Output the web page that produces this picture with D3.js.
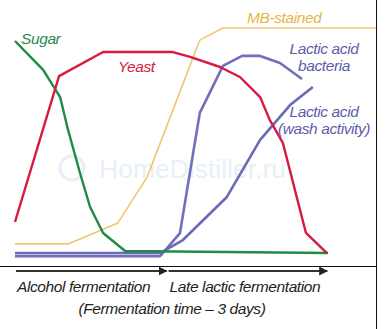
<!DOCTYPE html>
<html>
<head>
<meta charset="utf-8">
<script src="https://cdn.jsdelivr.net/npm/d3@7/dist/d3.min.js"></script>
<style>
  html, body { margin: 0; padding: 0; background: #fff; }
  svg { display: block; }
  text { font-family: "Liberation Sans", Arial, sans-serif; font-style: italic; }
</style>
</head>
<body>
<svg id="chart" width="386" height="329"></svg>
<script>
// Relative level of each population over the course of fermentation (0–100)
const sugarTime   = [0, 7.8, 12.5, 14.7, 18.0, 20.8, 24.4, 30.5, 86.7];
const sugarLevel  = [94.3, 81.6, 69.7, 55.3, 36.4, 21.5, 10.1, 2.2, 1.3];

const yeastTime   = [0, 12.2, 24.4, 43.5, 48.5, 56.8, 62.3, 67.9, 70.6, 74.2, 80.6, 86.4];
const yeastLevel  = [14.9, 78.9, 89.5, 89.5, 87.3, 82.9, 78.5, 69.7, 59.6, 49.6, 10.1, 1.3];

const mbTime      = [0, 14.7, 28.5, 36.6, 51.2, 57.6, 100];
const mbLevel     = [5.3, 5.3, 14.5, 34.6, 94.7, 100, 100];

const labTime     = [0, 40.2, 45.7, 49.9, 51.2, 57.6, 62.9, 67.9, 73.4, 79.5];
const labLevel    = [0.4, 0.4, 10.5, 50.9, 63.2, 83.8, 88.2, 88.2, 85.1, 78.1];

const acidTime    = [0, 40.2, 46.5, 58.7, 67.9, 76.2, 82.5];
const acidLevel   = [1.3, 1.3, 7.0, 25.9, 50.9, 66.2, 74.1];

const phaseNames  = ["Alcohol fermentation", "Late lactic fermentation"];
const phaseBounds = [0, 42, 86.5];
const axisCaption = "(Fermentation time \u2013 3 days)";

const svg = d3.select("#chart");

const x = d3.scaleLinear().domain([0, 100]).range([15, 376]);
const y = d3.scaleLinear().domain([0, 100]).range([256, 28]);

// faint site watermark behind the curves
const wm = svg.append("g");
wm.append("circle").attr("cx", 72).attr("cy", 168).attr("r", 12)
  .attr("fill", "none").attr("stroke", "#e8eff7").attr("stroke-width", 3);
wm.append("text").attr("x", 99).attr("y", 178)
  .style("font-style", "normal").style("font-size", "26.5px")
  .attr("fill", "#e8eff7").text("HomeDistiller.ru");

// frame: right edge and the rule under the plot
svg.append("line").attr("x1", 376.5).attr("x2", 376.5).attr("y1", 0).attr("y2", 329)
  .attr("stroke", "#111").attr("stroke-width", 1);
svg.append("line").attr("x1", 0).attr("x2", 377).attr("y1", 266.5).attr("y2", 266.5)
  .attr("stroke", "#111").attr("stroke-width", 1);

const line = d3.line().x(d => x(d[0])).y(d => y(d[1]));
const zip = (a, b) => a.map((v, i) => [v, b[i]]);

const series = [
  { t: labTime,   v: labLevel,   color: "#6f6fbc", w: 2.6, dy: 1 },
  { t: acidTime,  v: acidLevel,  color: "#6a6ab5", w: 2.6, dy: 0 },
  { t: mbTime,    v: mbLevel,    color: "#f0c66e", w: 1.6, dy: 0 },
  { t: sugarTime, v: sugarLevel, color: "#1f8b45", w: 2.4, dy: 0 },
  { t: yeastTime, v: yeastLevel, color: "#d81a40", w: 2.4, dy: 0 }
];

series.forEach(s => {
  svg.append("path")
    .datum(zip(s.t, s.v))
    .attr("d", line)
    .attr("transform", `translate(0,${s.dy})`)
    .attr("fill", "none")
    .attr("stroke", s.color)
    .attr("stroke-width", s.w)
    .attr("stroke-linejoin", "round");
});

// series labels
const labels = [
  { lines: ["Sugar"], x: 21, y: 44, color: "#2a8a50" },
  { lines: ["Yeast"], x: 118, y: 72, color: "#d2203e" },
  { lines: ["MB-stained"], x: 247, y: 23, color: "#e8b548" },
  { lines: ["Lactic acid", "bacteria"], x: 324, y: 54, color: "#5d5dac", anchor: "middle" },
  { lines: ["Lactic acid", "(wash activity)"], x: 324, y: 117, color: "#5d5dac", anchor: "middle" }
];
labels.forEach(l => {
  const t = svg.append("text")
    .attr("x", l.x).attr("y", l.y)
    .attr("fill", l.color)
    .attr("text-anchor", l.anchor || "start")
    .style("font-size", "15.5px")
    .style("letter-spacing", "-0.4px");
  l.lines.forEach((s, i) => {
    t.append("tspan").attr("x", l.x).attr("dy", i === 0 ? 0 : 17).text(s);
  });
});

// phase arrows along the time axis
const defs = svg.append("defs");
defs.append("marker")
  .attr("id", "arrowhead")
  .attr("viewBox", "0 0 10 10")
  .attr("refX", 9).attr("refY", 5)
  .attr("markerWidth", 4.5).attr("markerHeight", 4.5)
  .attr("markerUnits", "strokeWidth")
  .attr("orient", "auto")
  .append("path").attr("d", "M0,0 L10,5 L0,10 Z").attr("fill", "#222");

const phases = phaseNames.map((n, i) => ({ name: n, from: phaseBounds[i], to: phaseBounds[i + 1] }));
svg.selectAll("line.phase")
  .data(phases)
  .join("line")
  .attr("class", "phase")
  .attr("x1", (d, i) => x(d.from) + (i ? 2 : 1))
  .attr("x2", d => x(d.to))
  .attr("y1", 271).attr("y2", 271)
  .attr("stroke", "#333").attr("stroke-width", 2)
  .attr("marker-end", "url(#arrowhead)");

svg.selectAll("text.phase")
  .data(phases)
  .join("text")
  .attr("class", "phase")
  .attr("x", (d, i) => x(d.from) + (i ? 3 : 2))
  .attr("y", 292)
  .attr("fill", "#222")
  .style("font-size", "15.5px")
  .style("letter-spacing", "-0.4px")
  .text(d => d.name);

svg.append("text")
  .attr("x", 172).attr("y", 314)
  .attr("text-anchor", "middle")
  .attr("fill", "#222")
  .style("font-size", "15.5px")
  .style("letter-spacing", "-0.4px")
  .text(axisCaption);
</script>
</body>
</html>
